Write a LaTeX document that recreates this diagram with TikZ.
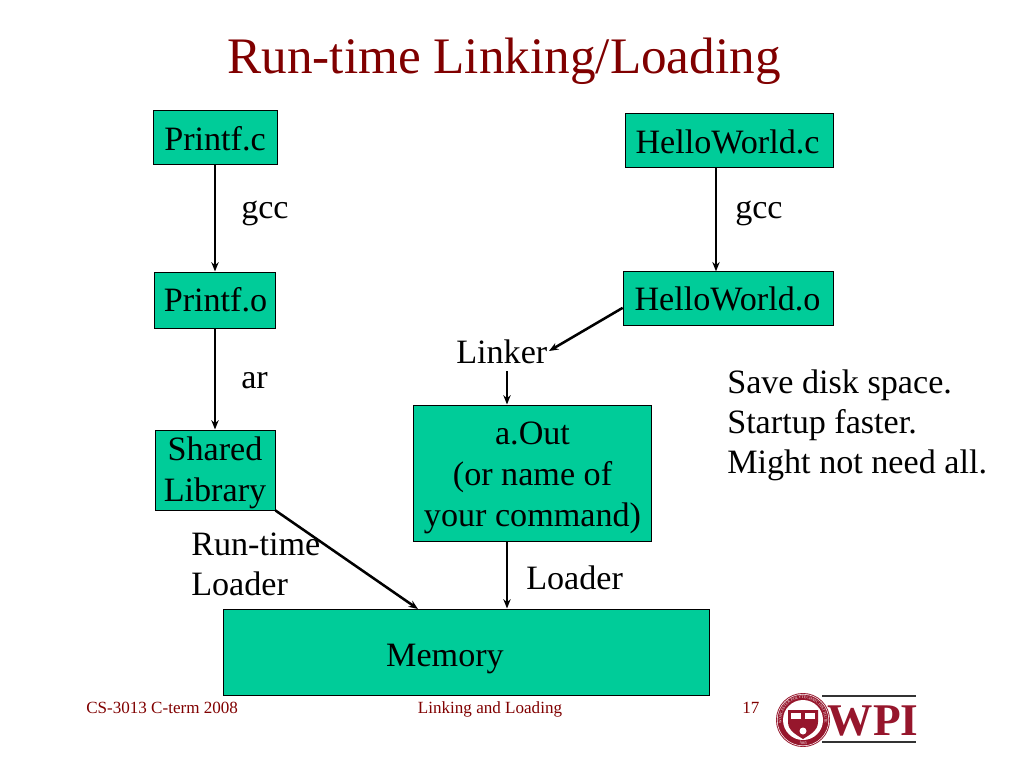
\documentclass[tikz,border=0pt]{standalone}
\usepackage{fontspec}
\setmainfont{Liberation Serif}
\usepackage{xcolor}
\usetikzlibrary{arrows.meta,decorations.text}
\definecolor{slideteal}{RGB}{0,204,153}
\definecolor{slidered}{RGB}{128,0,0}
\definecolor{wpired}{RGB}{150,22,44}

\begin{document}
\begin{tikzpicture}[x=.75pt, y=-.75pt,
		box/.style={draw=black, fill=slideteal, line width=.75pt, inner sep=0pt, align=center, font=\fontsize{25.6}{31}\selectfont},
		lbl/.style={anchor=base west, inner sep=0pt, font=\fontsize{25.6}{30}\selectfont},
		foot/.style={anchor=base, inner sep=0pt, text=slidered, font=\fontsize{12.8}{14}\selectfont},
		conn/.style={-{Stealth[length=7pt,width=5.5pt]}, line width=1.9pt}]
	\useasboundingbox (0,0) rectangle (1024,768);
	\node[anchor=base, inner sep=0pt, text=slidered, font=\fontsize{38.4}{44}\selectfont] (title) at (504,73) {Run-time Linking/Loading};

	\node[box, minimum width=93pt, minimum height=40.5pt] (printfc) at (215,137) {};
	\node[box, minimum width=156pt, minimum height=40pt] (helloc) at (729,140.5) {};
	\node[box, minimum width=91pt, minimum height=42pt] (printfo) at (215,300) {};
	\node[box, minimum width=158pt, minimum height=40pt] (helloo) at (728.5,298.5) {};
	\node[box, minimum width=90pt, minimum height=60pt] (shared) at (215,470) {};
	\node[box, minimum width=179pt, minimum height=102pt] (aout) at (532.5,473) {};
	\node[box, minimum width=365pt, minimum height=64.5pt] (memory) at (466.5,652) {};
	\node[lbl, anchor=base] (printfctext) at (215,150) {Printf.c};
	\node[lbl, anchor=base] (helloctext) at (727.5,153) {HelloWorld.c};
	\node[lbl, anchor=base] (printfotext) at (215.5,311) {Printf.o};
	\node[lbl, anchor=base] (hellootext) at (727.5,310) {HelloWorld.o};
	\node[lbl, anchor=base] (sharedtop) at (215,460) {Shared};
	\node[lbl, anchor=base] (sharedbot) at (215,501) {Library};
	\node[lbl, anchor=base] (aoutone) at (532.5,444) {a.Out};
	\node[lbl, anchor=base] (aouttwo) at (532.5,485) {(or name of};
	\node[lbl, anchor=base] (aoutthree) at (532.5,526) {your command)};
	\node[lbl, anchor=base] (memlabel) at (445,666) {Memory};

	\node[lbl] (gccleft) at (241,218) {gcc};
	\node[lbl] (gccright) at (735,218) {gcc};
	\node[lbl] (ar) at (241,388) {ar};
	\node[lbl] (linker) at (456,363) {Linker};
	\node[lbl] (loader) at (526,589) {Loader};
	\node[lbl] (runtime) at (191,555) {Run-time};
	\node[lbl] (rtloader) at (191,595) {Loader};
	\node[lbl] (save) at (727,393) {Save disk space.};
	\node[lbl] (startup) at (727,433) {Startup faster.};
	\node[lbl] (might) at (727,473) {Might not need all.};

	\coordinate (helloout) at (716,167);
	\coordinate (linkerin) at (549,351);
	\coordinate (linkerout) at (507,371);
	\coordinate (libin) at (418,609);
	\coordinate (aoutout) at (507,541);
	\draw[conn] (printfc.south) -- (printfo.north);
	\draw[conn] (helloout) -- (helloout |- helloo.north);
	\draw[conn] (printfo.south) -- (shared.north);
	\draw[conn] ([yshift=-7pt]helloo.west) -- (linkerin);
	\draw[conn] (linkerout) -- (linkerout |- aout.north);
	\draw[conn] (shared.south east) -- (libin);
	\draw[conn] (aoutout) -- (aoutout |- memory.north);

	\node[foot, anchor=base west] (course) at (86,713) {CS-3013 C-term 2008};
	\node[foot] (topic) at (490,713) {Linking and Loading};
	\node[foot, anchor=base west] (pagenum) at (742,713) {17};

	% logo
	\draw[black!80, line width=1pt] (822,696) -- (916,696);
	\draw[black!80, line width=1pt] (822,742) -- (916,742);
	\fill[wpired] (803,720) circle (27);
	\draw[white, line width=.4pt] (803,720) circle (25.8);
	\fill[white] (803,720) circle (20);
	\path[decorate, decoration={text along path, text align=center, text color=white, text={|\fontsize{3}{4}\selectfont|WORCESTER POLYTECHNIC INSTITUTE}}]
		(784.2,730.4) arc[start angle=-209, end angle=29, radius=21.5];
	\path[decorate, decoration={text along path, text align=center, text color=white, text={|\fontsize{3}{4}\selectfont|1865}}]
		(794,742.3) arc[start angle=112, end angle=68, radius=24.5];
	\fill[wpired] (788,710) -- (818,710) -- (818,722) .. controls (818,731) and (809,735) .. (803,739) .. controls (797,735) and (788,731) .. (788,722) -- cycle;
	\fill[white] (791,713) rectangle (801,719);
	\fill[white] (805,713) rectangle (815,719);
	\fill[white] (803,731) circle (3.5);
	\node[anchor=base, inner sep=0pt, text=wpired, font=\fontsize{34}{35}\bfseries\selectfont] (wpi) at (873,735) {WPI};
\end{tikzpicture}
\end{document}
